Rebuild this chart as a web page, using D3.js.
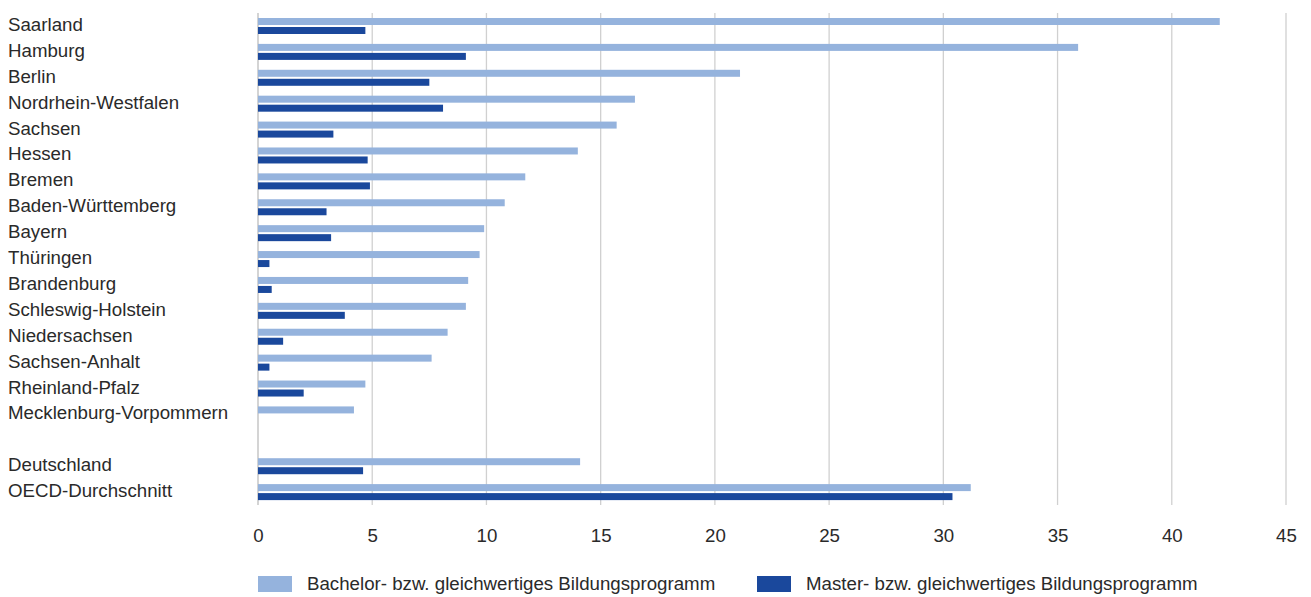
<!DOCTYPE html>
<html><head><meta charset="utf-8">
<script src="https://cdn.jsdelivr.net/npm/d3@7"></script>
<style>
html,body{margin:0;padding:0;background:#fff;}
svg{display:block;font-family:"Liberation Sans",Arial,sans-serif;}
</style></head>
<body>
<svg id="chart" width="1311" height="597"></svg>
<script>
const categories = ["Saarland","Hamburg","Berlin","Nordrhein-Westfalen","Sachsen","Hessen","Bremen","Baden-Württemberg","Bayern","Thüringen","Brandenburg","Schleswig-Holstein","Niedersachsen","Sachsen-Anhalt","Rheinland-Pfalz","Mecklenburg-Vorpommern","","Deutschland","OECD-Durchschnitt"];
const bachelor = [42.1,35.9,21.1,16.5,15.7,14.0,11.7,10.8,9.9,9.7,9.2,9.1,8.3,7.6,4.7,4.2,null,14.1,31.2];
const master   = [4.7,9.1,7.5,8.1,3.3,4.8,4.9,3.0,3.2,0.5,0.6,3.8,1.1,0.5,2.0,null,null,4.6,30.4];
const seriesNames = ["Bachelor- bzw. gleichwertiges Bildungsprogramm","Master- bzw. gleichwertiges Bildungsprogramm"];
const tickValues = [0,5,10,15,20,25,30,35,40,45];

(function(){
const colors = ["#95b3dd","#1a489c"];
const svg = d3.select("#chart");
const fs = "18.7px", txt = "#2a2a2a";
const keys = categories.map((c,i)=>i);
const x = d3.scaleLinear().domain([0,45]).range([258,1286]);
const y = d3.scaleBand().domain(keys).range([13,505]).padding(0);
const bh = 7, gap = 2, padTop = 5;

// gridlines
svg.append("g").selectAll("line").data(tickValues).join("line")
  .attr("x1",d=>x(d)).attr("x2",d=>x(d)).attr("y1",13).attr("y2",505)
  .attr("stroke",d=>d===0?"#bdbdbd":"#d0d0d0").attr("stroke-width",1.3);

// x axis labels
const xAxis = d3.axisBottom(x).tickValues(tickValues).tickSize(0).tickPadding(0).tickFormat(d3.format("d"));
const gx = svg.append("g").attr("transform","translate(0,529)").call(xAxis);
gx.select(".domain").remove();
gx.selectAll("text").attr("font-size",fs).attr("fill",txt).attr("font-family","Liberation Sans, Arial, sans-serif").attr("dy","0.71em");

// category labels
svg.append("g").selectAll("text").data(keys).join("text")
  .attr("x",8).attr("y",d=>y(d)+18)
  .attr("font-size",fs).attr("fill",txt).text(d=>categories[d]);

// bars
svg.append("g").selectAll("rect").data(keys.filter(i=>bachelor[i]!=null)).join("rect")
  .attr("x",x(0)).attr("y",i=>y(i)+padTop).attr("height",bh)
  .attr("width",i=>x(bachelor[i])-x(0)).attr("fill",colors[0]);
svg.append("g").selectAll("rect").data(keys.filter(i=>master[i]!=null)).join("rect")
  .attr("x",x(0)).attr("y",i=>y(i)+padTop+bh+gap).attr("height",bh)
  .attr("width",i=>x(master[i])-x(0)).attr("fill",colors[1]);

// legend
const legX = [258,757];
const lg = svg.append("g");
seriesNames.forEach((n,i)=>{
  lg.append("rect").attr("x",legX[i]).attr("y",576).attr("width",34).attr("height",16).attr("fill",colors[i]);
  lg.append("text").attr("x",legX[i]+49).attr("y",590).attr("font-size",fs).attr("fill",txt).text(n);
});
})();
</script>
</body></html>
